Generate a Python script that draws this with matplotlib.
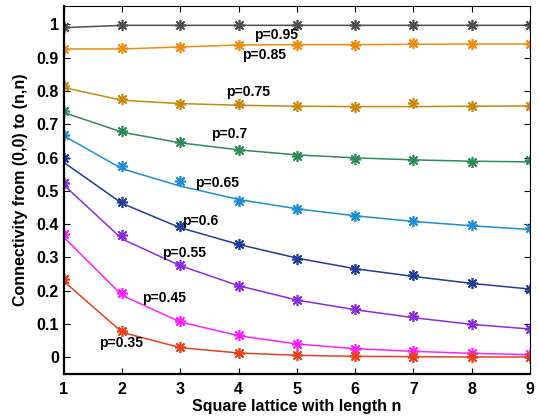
import matplotlib
matplotlib.use("Agg")
import matplotlib.pyplot as plt

plt.rcParams['font.family'] = ['Liberation Sans', 'DejaVu Sans']

n = [1, 2, 3, 4, 5, 6, 7, 8, 9]
labels = ["p=0.95", "p=0.85", "p=0.75", "p=0.7", "p=0.65", "p=0.6", "p=0.55", "p=0.45", "p=0.35"]
colors = ["#4d4d4d", "#ee8c10", "#c8880e", "#2e8b57", "#1b8fd2", "#1f3c96", "#8a2be2", "#ff20ff", "#e8401a"]

# measured points (markers)
m095 = [0.993, 0.998, 0.998, 0.998, 0.998, 0.998, 0.998, 0.998, 0.998]
m085 = [0.926, 0.929, 0.932, 0.939, 0.939, 0.937, 0.944, 0.941, 0.942]
m075 = [0.816, 0.775, 0.762, 0.760, 0.754, 0.751, 0.764, 0.756, 0.756]
m070 = [0.741, 0.679, 0.646, 0.623, 0.606, 0.597, 0.593, 0.588, 0.592]
m065 = [0.669, 0.574, 0.530, 0.470, 0.446, 0.424, 0.410, 0.396, 0.389]
m060 = [0.600, 0.466, 0.394, 0.341, 0.296, 0.266, 0.248, 0.224, 0.206]
m055 = [0.524, 0.367, 0.277, 0.213, 0.171, 0.146, 0.124, 0.099, 0.086]
m045 = [0.370, 0.192, 0.108, 0.066, 0.040, 0.026, 0.019, 0.012, 0.009]
m035 = [0.234, 0.078, 0.031, 0.013, 0.006, 0.003, 0.002, 0.001, 0.001]

# fitted curves (lines)
l095 = [0.990, 0.997, 0.997, 0.997, 0.997, 0.997, 0.997, 0.997, 0.997]
l085 = [0.926, 0.926, 0.932, 0.938, 0.939, 0.939, 0.940, 0.941, 0.941]
l075 = [0.810, 0.772, 0.762, 0.757, 0.754, 0.753, 0.753, 0.754, 0.755]
l070 = [0.735, 0.676, 0.644, 0.623, 0.608, 0.599, 0.593, 0.589, 0.587]
l065 = [0.665, 0.566, 0.514, 0.474, 0.446, 0.425, 0.408, 0.395, 0.384]
l060 = [0.585, 0.462, 0.389, 0.339, 0.298, 0.266, 0.243, 0.222, 0.205]
l055 = [0.517, 0.355, 0.275, 0.215, 0.172, 0.143, 0.119, 0.099, 0.085]
l045 = [0.360, 0.186, 0.106, 0.065, 0.040, 0.026, 0.018, 0.012, 0.008]
l035 = [0.228, 0.075, 0.029, 0.013, 0.006, 0.003, 0.002, 0.001, 0.001]

markers = [m095, m085, m075, m070, m065, m060, m055, m045, m035]
lines = [l095, l085, l075, l070, l065, l060, l055, l045, l035]

label_x = [4.64, 4.43, 4.16, 3.83, 3.63, 3.33, 3.06, 2.71, 1.98]
label_y = [0.969, 0.909, 0.796, 0.672, 0.525, 0.41, 0.312, 0.177, 0.042]

fig = plt.figure(figsize=(5.39, 4.18), dpi=100)
ax = fig.add_axes([0.1187, 0.1053, 0.8646, 0.8803])

for mk, ln, c in zip(markers, lines, colors):
    ax.plot(n, ln, '-', color=c, lw=1.1)
    ax.plot(n, mk, marker=(8, 2, 0), color=c, ms=8, mew=1.2, linestyle='none')

for t, x, y in zip(labels, label_x, label_y):
    ax.text(x, y, t, ha='center', va='center', fontsize=10, fontweight='bold')

ax.set_xlim(1, 9)
ax.set_ylim(-0.05, 1.055)
ax.set_xticks(n)
ax.set_yticks([0, 0.1, 0.2, 0.3, 0.4, 0.5, 0.6, 0.7, 0.8, 0.9, 1])
ax.set_yticklabels(["0", "0.1", "0.2", "0.3", "0.4", "0.5", "0.6", "0.7", "0.8", "0.9", "1"])
ax.tick_params(direction='in', top=True, right=True, length=4, labelsize=11.5, width=0.8)
ax.tick_params(axis='x', pad=6)
for lab in ax.get_xticklabels() + ax.get_yticklabels():
    lab.set_fontweight('bold')
ax.set_xlabel("Square lattice with length n", fontsize=11.5, fontweight='bold', labelpad=1)
ax.set_ylabel("Connectivity from (0,0) to (n,n)", fontsize=11.5, fontweight='bold', labelpad=6)
for s in ax.spines.values():
    s.set_linewidth(0.8)
ax.spines['left'].set_linewidth(1.6)
ax.spines['bottom'].set_linewidth(1.6)

fig.savefig("out.png", dpi=100)
